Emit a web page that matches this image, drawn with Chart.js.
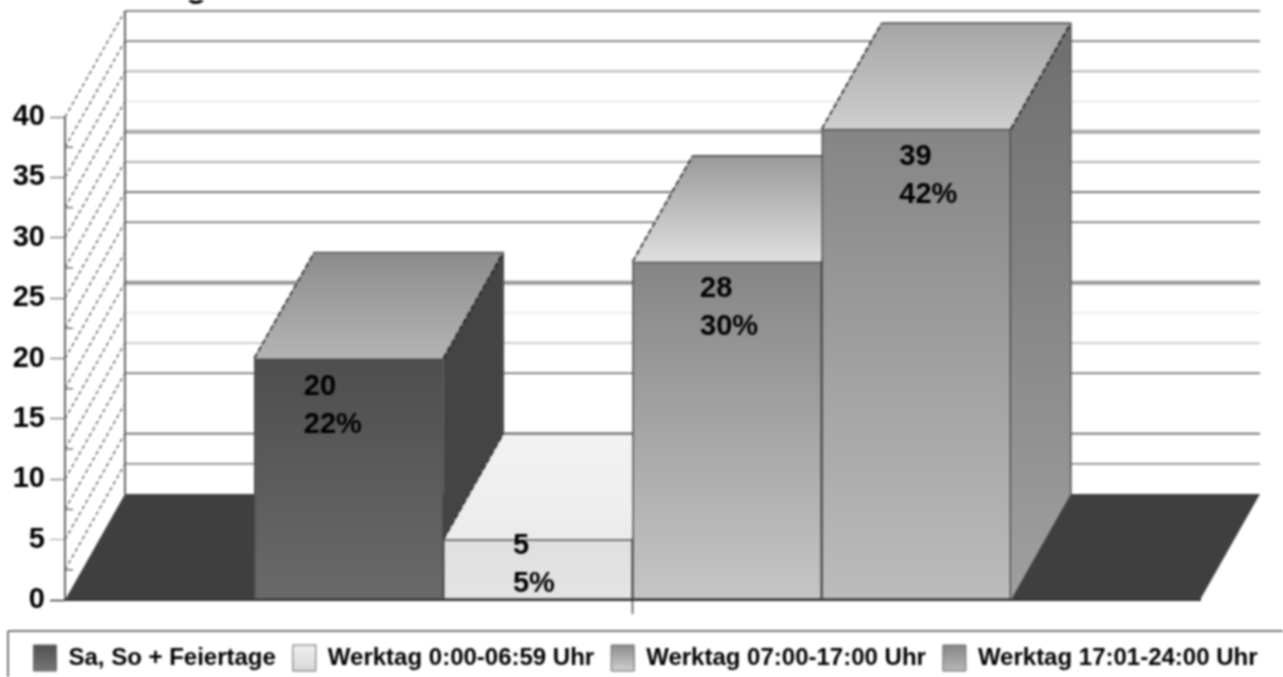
<!DOCTYPE html>
<html>
<head>
<meta charset="utf-8">
<title>Chart</title>
<script src="https://cdn.jsdelivr.net/npm/chart.js@4"></script>
<style>
  html, body { margin: 0; padding: 0; background: #fff; overflow: hidden; }
  canvas { display: block; filter: blur(0.8px); }
</style>
</head>
<body>
<canvas id="chart" width="1283" height="677"></canvas>
<script>
// Chart data
const categories = ['', 'Sa, So + Feiertage', 'Werktag 0:00-06:59 Uhr', 'Werktag 07:00-17:00 Uhr', 'Werktag 17:01-24:00 Uhr', ''];
const seriesNames = ['Sa, So + Feiertage', 'Werktag 0:00-06:59 Uhr', 'Werktag 07:00-17:00 Uhr', 'Werktag 17:01-24:00 Uhr'];
const counts = [20, 5, 28, 39];
const percents = [22, 5, 30, 42];
const yTicks = [0, 5, 10, 15, 20, 25, 30, 35, 40];
const wallLevels = [0, 2.5, 5, 7.5, 10, 12.5, 15, 17.5, 20, 22.5, 25, 27.5, 30, 32.5, 35, 37.5, 40];

// Depth of the fake 3D box, in pixels
const DEPTH_X = 60;
const DEPTH_Y = -106;

// Back wall line looks, same order as wallLevels (null = not visible)
const wallLines = [
  null, ['#777', 1.6], ['#666', 1.6], null, ['#666', 1.6], ['#bbb', 1.4], ['#e2e2e2', 1.4], ['#999', 4],
  null, ['#666', 1.6], ['#666', 1.6], ['#999', 1.6], ['#aaa', 4], ['#e0e0e0', 1.4], ['#aaa', 1.6], ['#666', 1.6], ['#888', 2]
];

// Colours per bar: [front top, front bottom], [top back, top front], [side top, side bottom]
const faces = [
  { front: ['#4e4e4e', '#6a6a6a'], top: ['#8c8c8c', '#b4b4b4'], side: ['#444444', '#444444'], swatch: ['#505050', '#777777'] },
  { front: ['#e0e0e0', '#e4e4e4'], top: ['#f3f3f3', '#ececec'], side: ['#999999', '#999999'], swatch: ['#f0f0f0', '#d8d8d8'] },
  { front: ['#858585', '#c6c6c6'], top: ['#9a9a9a', '#e0e0e0'], side: ['#777777', '#888888'], swatch: ['#8c8c8c', '#d0d0d0'] },
  { front: ['#858585', '#bcbcbc'], top: ['#a5a5a5', '#cfcfcf'], side: ['#6e6e6e', '#a0a0a0'], swatch: ['#858585', '#b8b8b8'] }
];

// Label placement inside each bar, relative to bar centre and bar top
const labelOffsets = [[-45, 28], [-25, 6], [-27, 27], [-17, 28]];

function polygon(ctx, points, fill) {
  ctx.beginPath();
  points.forEach((p, i) => (i === 0 ? ctx.moveTo(p[0], p[1]) : ctx.lineTo(p[0], p[1])));
  ctx.closePath();
  ctx.fillStyle = fill;
  ctx.fill();
}

function line(ctx, x1, y1, x2, y2, color, width, dash) {
  ctx.save();
  ctx.beginPath();
  ctx.setLineDash(dash || []);
  ctx.strokeStyle = color;
  ctx.lineWidth = width;
  ctx.moveTo(x1, y1);
  ctx.lineTo(x2, y2);
  ctx.stroke();
  ctx.restore();
}

function vGradient(ctx, y1, y2, colors) {
  const g = ctx.createLinearGradient(0, y1, 0, y2);
  g.addColorStop(0, colors[0]);
  g.addColorStop(1, colors[1]);
  return g;
}

// Draws walls, floor and the depth faces of the bars behind the real bars
const box3d = {
  id: 'box3d',
  beforeDatasetsDraw(chart) {
    const ctx = chart.ctx;
    const x = chart.scales.x;
    const y = chart.scales.y;
    const y0 = y.getPixelForValue(0);
    const y40 = y.getPixelForValue(40);

    // clipped title, only the descender is left in the picture
    ctx.fillStyle = '#000';
    ctx.font = 'bold 34px "Liberation Sans"';
    ctx.textAlign = 'left';
    ctx.textBaseline = 'alphabetic';
    ctx.fillText('g', 186, -3);

    // back wall lines
    wallLevels.forEach((level, i) => {
      if (!wallLines[i]) return;
      const py = y.getPixelForValue(level) + DEPTH_Y;
      line(ctx, x.left + DEPTH_X, py, x.right + DEPTH_X, py, wallLines[i][0], wallLines[i][1]);
    });

    // left wall, hatched
    wallLevels.forEach(level => {
      const py = y.getPixelForValue(level);
      if (level > 0) {
        line(ctx, x.left, py, x.left + DEPTH_X, py + DEPTH_Y, '#666', 1.5, [4, 3]);
        if (level % 5 !== 0) line(ctx, x.left, py, x.left + 8, py, '#666', 1.4);
      }
    });
    line(ctx, x.left + DEPTH_X, y40 + DEPTH_Y, x.left + DEPTH_X, y0 + DEPTH_Y, '#666', 2);

    // floor
    polygon(ctx, [[x.left, y0], [x.left + DEPTH_X, y0 + DEPTH_Y], [x.right + DEPTH_X, y0 + DEPTH_Y], [x.right, y0]], '#3f3f3f');

    // depth faces, left to right so later bars cover earlier ones
    counts.forEach((value, i) => {
      const bar = chart.getDatasetMeta(i).data[i + 1];
      const l = bar.x - bar.width / 2;
      const r = bar.x + bar.width / 2;
      const top = y.getPixelForValue(value);
      const f = faces[i];
      polygon(ctx, [[r, top], [r + DEPTH_X, top + DEPTH_Y], [r + DEPTH_X, y0 + DEPTH_Y], [r, y0]],
        vGradient(ctx, top + DEPTH_Y, y0, f.side));
      polygon(ctx, [[l, top], [l + DEPTH_X, top + DEPTH_Y], [r + DEPTH_X, top + DEPTH_Y], [r, top]],
        vGradient(ctx, top + DEPTH_Y, top, f.top));
      line(ctx, l, top, l + DEPTH_X, top + DEPTH_Y, '#333', 1.8, [6, 2]);
      line(ctx, r, top, r + DEPTH_X, top + DEPTH_Y, '#222', 1.8, [6, 2]);
      line(ctx, l + DEPTH_X, top + DEPTH_Y, r + DEPTH_X, top + DEPTH_Y, '#555', 1.6);
      line(ctx, r + DEPTH_X, top + DEPTH_Y, r + DEPTH_X, y0 + DEPTH_Y, '#555', 1.6);
    });
  },
  afterDatasetsDraw(chart) {
    const ctx = chart.ctx;
    const y = chart.scales.y;
    ctx.fillStyle = '#000';
    ctx.font = 'bold 29px "Liberation Sans"';
    ctx.textAlign = 'left';
    ctx.textBaseline = 'middle';
    counts.forEach((value, i) => {
      const bar = chart.getDatasetMeta(i).data[i + 1];
      const top = y.getPixelForValue(value);
      const off = labelOffsets[i];
      ctx.fillText(String(value), bar.x + off[0], top + off[1]);
      ctx.fillText(percents[i] + '%', bar.x + off[0], top + off[1] + 38);
    });
  },
  beforeDraw(chart) {
    // legend frame, runs off the page on the right and at the bottom
    const ctx = chart.ctx;
    line(ctx, 8, 631, 1283, 631, '#777', 2);
    line(ctx, 8, 631, 8, 677, '#777', 2);
  }
};

new Chart(document.getElementById('chart'), {
  type: 'bar',
  data: {
    labels: categories,
    datasets: seriesNames.map((name, i) => ({
      label: name,
      data: categories.map((c, k) => (k === i + 1 ? counts[i] : null)),
      backgroundColor: ctx => {
        const y = ctx.chart.scales.y;
        if (!y) return faces[i].front[0];
        return vGradient(ctx.chart.ctx, y.getPixelForValue(counts[i]), y.getPixelForValue(0), faces[i].front);
      },
      borderColor: '#4a4a4a',
      borderWidth: 1.5,
      borderSkipped: false,
      barPercentage: 1,
      categoryPercentage: 1
    }))
  },
  options: {
    responsive: false,
    animation: false,
    layout: { padding: { left: 8, right: 0, top: 117, bottom: -4 } },
    plugins: {
      title: { display: false },
      tooltip: { enabled: false },
      legend: {
        position: 'bottom',
        labels: {
          color: '#000',
          font: { family: 'Liberation Sans', size: 24, weight: 'bold' },
          boxWidth: 23,
          boxHeight: 26,
          padding: 17,
          generateLabels: chart => seriesNames.map((name, i) => ({
            text: name,
            datasetIndex: i,
            fillStyle: vGradient(chart.ctx, 645, 671, faces[i].swatch),
            strokeStyle: '#666',
            lineWidth: 1,
            fontColor: '#000'
          }))
        }
      }
    },
    scales: {
      x: {
        stacked: true,
        offset: true,
        afterFit: scale => { scale.height = 28; },
        border: { color: '#333', width: 2, z: 1 },
        grid: {
          offset: true,
          drawOnChartArea: false,
          tickLength: 14,
          tickWidth: 1.5,
          tickColor: ctx => (ctx.index === 3 ? '#444' : 'rgba(0,0,0,0)')
        },
        ticks: { autoSkip: false, maxRotation: 0, callback: () => '' }
      },
      y: {
        stacked: true,
        min: 0,
        max: 40,
        afterFit: scale => { scale.width = 57; },
        afterBuildTicks: scale => { scale.ticks = yTicks.map(v => ({ value: v })); },
        border: { color: '#666', width: 2 },
        grid: {
          drawOnChartArea: false,
          tickLength: 15,
          tickWidth: 1.5,
          tickColor: ctx => ['#333', '#bbb', '#888', '#888', '#888', '#888', '#888', '#888', '#888'][ctx.index]
        },
        ticks: {
          color: '#000',
          padding: 5,
          font: { family: 'Liberation Sans', size: 29, weight: 'bold' }
        }
      },
      // empty axis, only keeps the room for the depth on the right of the plot
      spacer: {
        position: 'right',
        afterFit: scale => { scale.width = 83; },
        border: { display: false },
        grid: { display: false },
        ticks: { display: false }
      }
    }
  },
  plugins: [box3d]
});
</script>
</body>
</html>
